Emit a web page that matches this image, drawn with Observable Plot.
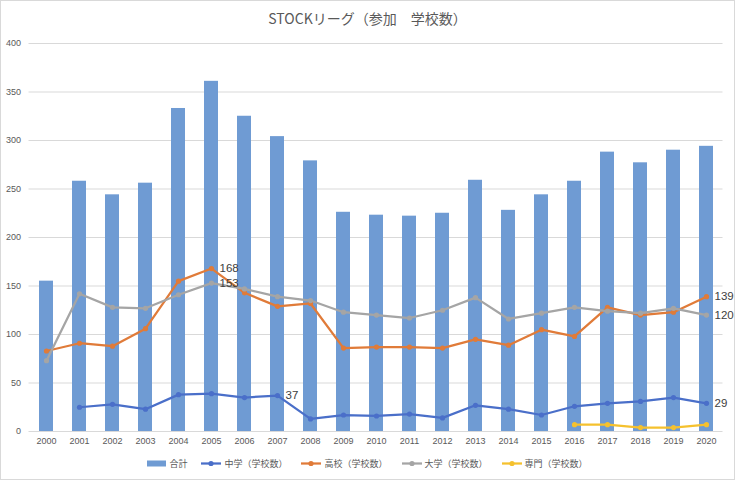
<!DOCTYPE html>
<html><head><meta charset="utf-8">
<script src="https://cdn.jsdelivr.net/npm/d3@7"></script>
<script src="https://cdn.jsdelivr.net/npm/@observablehq/plot@0.6"></script>
<style>
body{margin:0;background:#fff;font-family:"Noto Sans CJK JP","Noto Sans",sans-serif;}
#chart{width:733px;height:478px;border:1px solid #d9d9d9;background:#fff;overflow:hidden;}
#title{height:34px;line-height:34px;text-align:center;font-size:14px;color:#595959;}
#plot svg{display:block;}
#legend{display:flex;justify-content:center;align-items:center;height:22px;font-size:9px;color:#595959;gap:14px;}
.item{display:flex;align-items:center;gap:3px;}
</style>
</head><body>
<div id="chart"><div id="title">STOCKリーグ（参加　学校数）</div><div id="plot"></div><div id="legend"></div></div>
<script>
const years = [2000,2001,2002,2003,2004,2005,2006,2007,2008,2009,2010,2011,2012,2013,2014,2015,2016,2017,2018,2019,2020];
const total  = [155,258,244,256,333,361,325,304,279,226,223,222,225,259,228,244,258,288,277,290,294];
const junior = [null,25,28,23,38,39,35,37,13,17,16,18,14,27,23,17,26,29,31,35,29];
const high   = [83,91,88,106,155,168,143,129,132,86,87,87,86,95,89,105,98,128,120,123,139];
const univ   = [73,142,128,127,141,153,147,139,135,123,120,117,125,138,116,122,128,124,122,127,120];
const senmon = [null,null,null,null,null,null,null,null,null,null,null,null,null,null,null,null,7,7,4,4,7];
const totalName = "合計";
const seriesNames = ["中学（学校数）","高校（学校数）","大学（学校数）","専門（学校数）"];
const seriesColors = ["#4a6fc9","#e07b39","#a5a5a5","#f5c12e"];
const barColor = "#6f9bd3";
const yTicks = [0,50,100,150,200,250,300,350,400];
const labelled = [["高校（学校数）",2005],["大学（学校数）",2005],["中学（学校数）",2007],["高校（学校数）",2020],["大学（学校数）",2020],["中学（学校数）",2020]];

const seriesValues = [junior, high, univ, senmon];
const bars = years.map((y,i)=>({year:String(y), value:total[i]}));
const points = [];
seriesNames.forEach((name,k)=>seriesValues[k].forEach((v,i)=>{ if(v!=null) points.push({name, year:String(years[i]), value:v}); }));
const labels = points.filter(p=>labelled.some(([n,y])=>n===p.name && String(y)===p.year));

const chart = Plot.plot({
  width:733, height:417, marginTop:8, marginBottom:21, marginLeft:27.5, marginRight:11.5,
  style:{fontSize:"9px", color:"#595959", fontFamily:"'Liberation Sans', sans-serif", background:"#fff"},
  x:{type:"band", domain:years.map(String), paddingInner:0.58, paddingOuter:0.29, label:null, tickSize:0, tickPadding:6},
  y:{domain:[0,400], ticks:yTicks, label:null, tickSize:0, tickPadding:8},
  color:{domain:seriesNames, range:seriesColors},
  marks:[
    Plot.ruleY(yTicks,{stroke:"#d9d9d9", strokeWidth:1}),
    Plot.barY(bars,{x:"year", y:"value", fill:barColor}),
    Plot.line(points,{x:"year", y:"value", z:"name", stroke:"name", strokeWidth:2.25}),
    Plot.dot(points,{x:"year", y:"value", fill:"name", r:2.6}),
    Plot.text(labels,{x:"year", y:"value", text:d=>String(d.value), dx:8, textAnchor:"start", fontSize:11.5, fill:"#404040"})
  ]
});
document.getElementById("plot").appendChild(chart);

const legend = document.getElementById("legend");
const mk = (svg, text) => { const d=document.createElement("div"); d.className="item"; d.innerHTML=svg+"<span>"+text+"</span>"; legend.appendChild(d); };
mk(`<svg width="19" height="7"><rect x="0" y="0.5" width="19" height="6" fill="${barColor}"/></svg>`, totalName);
seriesNames.forEach((n,i)=>mk(`<svg width="20" height="7"><line x1="0" x2="20" y1="3.5" y2="3.5" stroke="${seriesColors[i]}" stroke-width="2.25"/><circle cx="10" cy="3.5" r="2.6" fill="${seriesColors[i]}"/></svg>`, n));
</script>
</body></html>
